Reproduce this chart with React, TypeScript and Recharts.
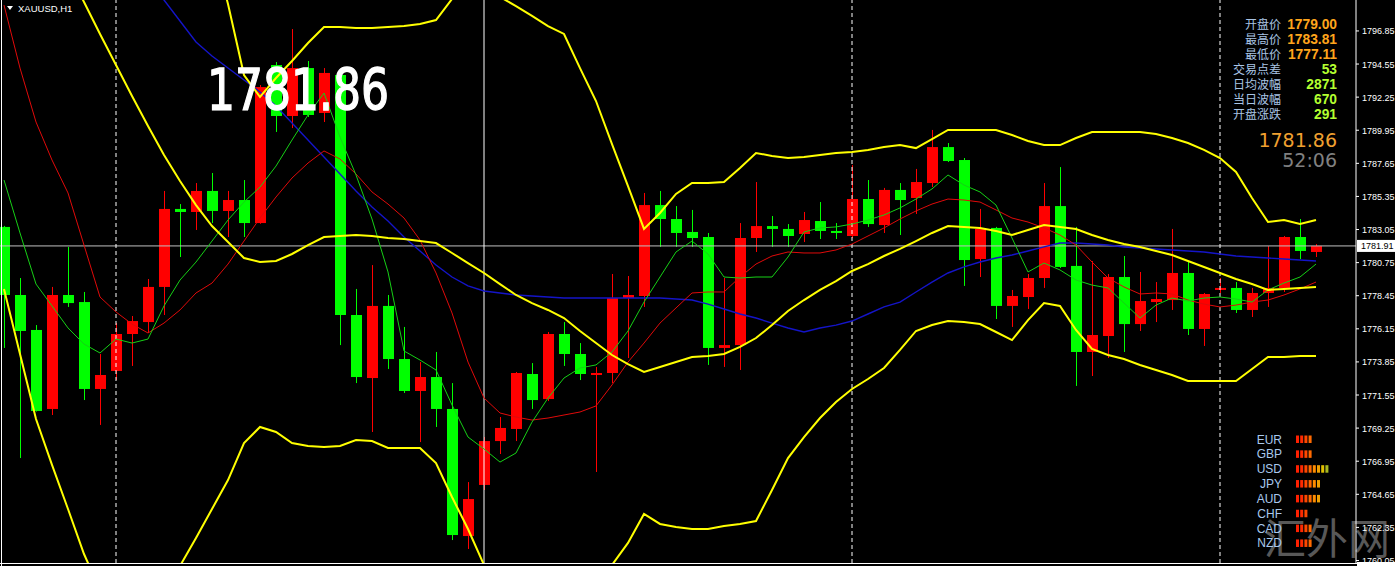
import React from "react";
import { ComposedChart, Bar, Line, XAxis, YAxis, ReferenceLine } from "recharts";

// XAUUSD H1 candles
const OPEN = [
  1783.23, 1778.5, 1776.07, 1770.58, 1778.5, 1778.01, 1771.97, 1773.22, 1775.79, 1776.62,
  1779.06, 1784.48, 1784.27, 1785.73, 1784.34, 1785.1, 1783.5, 1794.48, 1790.94, 1794.27,
  1791.15, 1793.79, 1777.11, 1772.73, 1777.74, 1774.05, 1771.83, 1772.8, 1770.58, 1761.75,
  1765.3, 1768.35, 1769.19, 1773.01, 1771.27, 1775.79, 1774.4, 1772.94, 1773.08, 1778.29,
  1778.43, 1784.75, 1783.78, 1782.88, 1782.53, 1774.82, 1775.02, 1782.46, 1783.29, 1783.09,
  1782.74, 1783.64, 1782.95, 1782.6, 1785.17, 1783.36, 1785.8, 1785.24, 1786.28, 1788.78,
  1787.88, 1781.0, 1783.16, 1777.74, 1778.36, 1779.68, 1784.68, 1780.52, 1774.54, 1775.65,
  1779.75, 1776.48, 1778.01, 1778.15, 1780.03, 1776.14, 1778.85, 1778.99, 1777.46, 1778.64,
  1778.99, 1782.53, 1781.49,
];
const HIGH = [
  1783.3, 1779.68, 1776.41, 1779.06, 1781.84, 1778.71, 1774.4, 1776.55, 1777.04, 1779.61,
  1785.73, 1784.82, 1786.28, 1786.98, 1785.73, 1786.49, 1793.09, 1794.69, 1796.98, 1794.76,
  1794.27, 1794.0, 1778.92, 1780.58, 1778.5, 1776.28, 1773.84, 1774.54, 1772.38, 1765.5,
  1768.63, 1770.02, 1773.15, 1773.77, 1775.93, 1776.62, 1775.16, 1773.5, 1779.96, 1779.82,
  1785.59, 1785.73, 1784.68, 1784.41, 1782.81, 1779.68, 1783.5, 1786.35, 1783.99, 1783.43,
  1784.27, 1784.96, 1783.5, 1787.53, 1786.49, 1785.94, 1786.28, 1787.26, 1789.97, 1789.06,
  1788.02, 1784.48, 1783.23, 1778.85, 1779.96, 1786.28, 1787.39, 1783.23, 1780.86, 1779.96,
  1781.21, 1780.1, 1779.4, 1783.09, 1780.79, 1778.64, 1779.68, 1779.4, 1778.99, 1781.9,
  1782.6, 1783.78, 1782.04,
];
const LOW = [
  1774.82, 1767.17, 1770.4, 1770.16, 1777.67, 1771.2, 1769.47, 1772.59, 1773.57, 1775.86,
  1777.11, 1781.14, 1783.02, 1783.5, 1782.53, 1782.53, 1783.45, 1789.83, 1790.1, 1790.87,
  1790.52, 1775.02, 1772.38, 1768.98, 1773.36, 1771.69, 1768.28, 1769.33, 1761.47, 1760.85,
  1764.95, 1767.45, 1768.35, 1770.58, 1771.13, 1773.57, 1772.59, 1766.2, 1772.38, 1774.12,
  1777.67, 1781.84, 1781.84, 1781.84, 1773.64, 1773.5, 1773.29, 1781.49, 1781.84, 1781.84,
  1782.18, 1782.39, 1782.39, 1782.46, 1783.23, 1782.81, 1782.67, 1784.13, 1786.0, 1787.74,
  1779.13, 1779.75, 1776.83, 1776.28, 1777.53, 1778.99, 1780.38, 1772.18, 1772.87, 1774.12,
  1774.54, 1776.0, 1776.62, 1777.46, 1775.72, 1774.96, 1778.64, 1777.25, 1776.97, 1777.67,
  1778.71, 1781.0, 1781.14,
];
const CLOSE = [
  1778.5, 1776.0, 1770.44, 1778.5, 1777.94, 1771.97, 1772.94, 1775.79, 1776.69, 1779.06,
  1784.48, 1784.27, 1785.73, 1784.34, 1785.1, 1783.5, 1792.95, 1790.94, 1794.27, 1791.01,
  1793.93, 1777.11, 1772.8, 1777.74, 1774.05, 1771.83, 1772.8, 1770.58, 1761.82, 1764.32,
  1768.35, 1769.26, 1773.08, 1771.2, 1775.79, 1774.4, 1773.01, 1773.08, 1778.29, 1778.5,
  1784.75, 1783.78, 1782.81, 1782.46, 1774.82, 1775.02, 1782.46, 1783.29, 1783.09, 1782.6,
  1783.71, 1782.95, 1782.81, 1785.17, 1783.43, 1785.8, 1785.1, 1786.35, 1788.78, 1787.81,
  1780.93, 1783.09, 1777.74, 1778.43, 1779.68, 1784.68, 1780.45, 1774.54, 1775.72, 1779.75,
  1776.48, 1778.08, 1778.22, 1780.03, 1776.14, 1778.57, 1778.99, 1777.46, 1778.64, 1778.99,
  1782.53, 1781.56, 1781.91,
];

// Bollinger bands
const BB_UPPER = [
  1841.74, 1841.67, 1841.32, 1839.93, 1838.54, 1837.22, 1835.28, 1832.7, 1829.44, 1824.92,
  1819.15, 1813.18, 1807.89, 1802.96, 1798.72, 1793.79, 1792.26, 1793.58, 1794.76, 1796.01,
  1797.12, 1797.12, 1797.05, 1797.05, 1797.12, 1797.19, 1797.33, 1797.61, 1799.07, 1799.83,
  1799.83, 1799.21, 1798.58, 1797.89, 1797.19, 1796.64, 1794.27, 1791.98, 1788.99, 1786.07,
  1783.09, 1784.2, 1785.52, 1786.28, 1786.28, 1786.35, 1787.33, 1788.37, 1788.16, 1788.02,
  1788.09, 1788.23, 1788.37, 1788.44, 1788.58, 1788.78, 1788.92, 1788.71, 1789.34, 1789.97,
  1789.97, 1789.97, 1789.97, 1789.62, 1789.2, 1788.92, 1788.92, 1789.41, 1789.83, 1789.83,
  1789.83, 1789.83, 1789.69, 1789.41, 1789.06, 1788.58, 1788.02, 1787.05, 1785.24, 1783.57,
  1783.71, 1783.43, 1783.71,
];
const BB_MIDDLE = [
  1810.47, 1808.03, 1805.6, 1803.31, 1801.08, 1798.86, 1796.64, 1794.48, 1792.33, 1790.24,
  1788.23, 1786.42, 1784.75, 1783.29, 1782.18, 1781.07, 1780.79, 1780.86, 1781.35, 1781.97,
  1782.53, 1782.6, 1782.67, 1782.6, 1782.46, 1782.39, 1782.25, 1782.11, 1781.42, 1780.72,
  1780.03, 1779.26, 1778.5, 1777.94, 1777.46, 1776.9, 1776.0, 1775.16, 1774.33, 1773.7,
  1773.15, 1773.5, 1773.84, 1774.19, 1774.26, 1774.4, 1774.89, 1775.51, 1776.41, 1777.39,
  1778.15, 1778.85, 1779.47, 1780.17, 1780.65, 1781.21, 1781.7, 1782.25, 1782.81, 1783.29,
  1783.23, 1783.16, 1782.95, 1782.67, 1783.02, 1783.36, 1783.23, 1783.09, 1782.67, 1782.32,
  1782.04, 1781.84, 1781.56, 1781.28, 1780.86, 1780.45, 1780.03, 1779.61, 1779.26, 1778.85,
  1778.92, 1778.99, 1779.06,
];
const BB_LOWER = [
  1778.92, 1774.4, 1769.88, 1766.69, 1763.63, 1760.5, 1758.0, 1756.26, 1755.22, 1755.57,
  1757.3, 1759.67, 1761.61, 1763.63, 1765.64, 1768.21, 1769.33, 1768.98, 1768.21, 1768.01,
  1767.94, 1768.01, 1768.42, 1768.35, 1767.87, 1767.87, 1767.87, 1766.82, 1764.46, 1762.24,
  1759.74, 1759.32, 1758.42, 1758.0, 1757.72, 1757.17, 1757.72, 1758.35, 1759.74, 1761.27,
  1763.28, 1762.59, 1762.38, 1762.24, 1762.24, 1762.45, 1762.59, 1762.79, 1764.95, 1767.17,
  1768.63, 1769.95, 1771.06, 1771.97, 1772.66, 1773.43, 1774.68, 1776.0, 1776.41, 1776.69,
  1776.62, 1776.48, 1775.93, 1775.37, 1776.76, 1777.94, 1777.74, 1776.07, 1774.75, 1774.33,
  1774.05, 1773.64, 1773.29, 1772.94, 1772.52, 1772.52, 1772.52, 1772.52, 1773.36, 1774.19,
  1774.19, 1774.26, 1774.26,
];

// moving averages
const MA_BLUE = [
  1812.2, 1810.81, 1809.42, 1808.03, 1806.64, 1805.25, 1803.86, 1802.47, 1801.43, 1800.25,
  1799.0, 1797.54, 1796.08, 1795.11, 1794.27, 1793.44, 1792.61, 1791.63, 1790.45, 1789.27,
  1788.09, 1786.91, 1785.73, 1784.61, 1783.64, 1782.53, 1781.56, 1780.58, 1779.75, 1779.13,
  1778.78, 1778.64, 1778.5, 1778.43, 1778.36, 1778.29, 1778.29, 1778.29, 1778.29, 1778.29,
  1778.29, 1778.29, 1778.22, 1778.15, 1777.87, 1777.53, 1777.18, 1776.9, 1776.55, 1776.21,
  1775.93, 1776.21, 1776.41, 1776.69, 1777.18, 1777.67, 1778.01, 1778.71, 1779.4, 1780.03,
  1780.45, 1780.79, 1781.07, 1781.28, 1781.56, 1781.84, 1782.11, 1782.11, 1782.04, 1781.97,
  1781.84, 1781.77, 1781.7, 1781.63, 1781.56, 1781.49, 1781.35, 1781.21, 1781.14, 1781.07,
  1781.0, 1780.93, 1780.86,
];
const MA_RED = [
  1798.65, 1794.27, 1790.52, 1787.88, 1785.59, 1781.97, 1778.36, 1777.32, 1776.48, 1775.86,
  1776.55, 1777.46, 1778.64, 1779.33, 1780.65, 1782.25, 1783.85, 1785.31, 1786.63, 1787.67,
  1788.51, 1787.95, 1786.91, 1785.66, 1784.82, 1783.85, 1782.32, 1780.03, 1777.25, 1773.84,
  1771.34, 1770.3, 1770.02, 1769.81, 1769.95, 1770.16, 1770.37, 1770.79, 1772.25, 1773.84,
  1775.16, 1776.55, 1777.6, 1778.64, 1778.71, 1778.71, 1779.75, 1780.65, 1781.21, 1781.49,
  1781.42, 1781.42, 1781.63, 1782.04, 1782.6, 1783.16, 1783.78, 1784.34, 1784.82, 1785.17,
  1785.1, 1784.96, 1784.41, 1783.85, 1783.57, 1783.16, 1782.67, 1781.97, 1780.79, 1779.68,
  1779.06, 1778.57, 1778.64, 1778.57, 1778.15, 1777.87, 1777.67, 1777.8, 1778.01, 1778.15,
  1778.5, 1778.92, 1779.4,
];
const MA_GREEN = [
  1786.49, 1782.81, 1779.26, 1777.74, 1776.21, 1775.09, 1774.47, 1775.44, 1775.16, 1775.44,
  1777.74, 1779.54, 1780.79, 1782.25, 1783.71, 1784.96, 1786.0, 1787.46, 1789.27, 1791.01,
  1792.54, 1789.48, 1786.84, 1783.78, 1780.1, 1774.61, 1773.98, 1773.29, 1770.86, 1768.63,
  1767.8, 1766.89, 1767.52, 1769.67, 1771.34, 1772.73, 1773.43, 1773.64, 1774.54, 1776.0,
  1778.01, 1779.75, 1781.49, 1782.25, 1781.35, 1779.75, 1779.68, 1779.75, 1779.75, 1781.14,
  1782.88, 1783.16, 1783.23, 1783.43, 1783.71, 1784.06, 1784.55, 1785.17, 1785.87, 1786.84,
  1786.14, 1785.66, 1784.75, 1782.46, 1780.1, 1780.72, 1780.24, 1779.54, 1779.19, 1778.99,
  1777.94, 1776.9, 1777.8, 1778.29, 1778.08, 1778.29, 1778.36, 1778.22, 1778.01, 1778.85,
  1779.33, 1779.75, 1780.65,
];

const PRICE_TICKS = [
  1796.85, 1794.55, 1792.25, 1789.95, 1787.65, 1785.35, 1783.05, 1780.75, 1778.45,
  1776.15, 1773.85, 1771.55, 1769.25, 1766.95, 1764.65, 1762.35, 1760.05,
];
const LAST_PRICE = 1781.91;
const SEPARATORS = [7, 53, 76];
const MARKER_BAR = 30;

const INFO_LABELS = ["开盘价", "最高价", "最低价", "交易点差", "日均波幅", "当日波幅", "开盘涨跌"];
const INFO_VALUES = ["1779.00", "1783.81", "1777.11", "53", "2871", "670", "291"];
const CURRENCIES = ["EUR", "GBP", "USD", "JPY", "AUD", "CHF", "CAD", "NZD"];
const STRENGTH = [4, 4, 8, 6, 6, 3, 4, 4];
const STRENGTH_COLORS = ["#ff2000", "#ff2a00", "#ff4800", "#ff6a00", "#ff8c00", "#f0a000", "#e0c000", "#a8b820"];

const W = 1395;
const H = 567;

const Candle = (props: any) => {
  const { x, y, width, height, payload } = props;
  if (!payload) return null;
  const { open, close, high, low } = payload;
  const top = Math.min(y, y + height);
  const h = Math.abs(height);
  const k = h / (high - low || 1);
  const up = close >= open;
  const color = up ? "#ff0000" : "#00ff00";
  const cx = Math.round(x + width / 2) + 0.5;
  const bTop = top + (high - Math.max(open, close)) * k;
  const bBot = top + (high - Math.min(open, close)) * k;
  return (
    <g>
      <line x1={cx} x2={cx} y1={top} y2={top + h} stroke={color} strokeWidth={1} />
      <rect x={cx - 5.5} y={bTop} width={11} height={Math.max(bBot - bTop, 1.5)} fill={color} />
    </g>
  );
};

const PriceTick = (props: any) => {
  const { x, y, payload } = props;
  return (
    <g>
      <line x1={x} x2={x + 3} y1={y} y2={y} stroke="#fff" />
      <text x={x + 6} y={y + 3.5} fill="#fff" fontSize={9} fontFamily="Liberation Sans">
        {Number(payload.value).toFixed(2)}
      </text>
    </g>
  );
};

const PriceBadge = (props: any) => {
  const vb = props.viewBox || {};
  const left = (vb.x || 0) + (vb.width || 0) + 1;
  const y = vb.y || 0;
  return (
    <g>
      <rect x={left} y={y - 6} width={W - left} height={12} fill="#fff" />
      <text x={left + 4} y={y + 3.5} fill="#000" fontSize={9} fontFamily="Liberation Sans">
        {LAST_PRICE.toFixed(2)}
      </text>
    </g>
  );
};

export default function App() {
  const data = OPEN.map((o, i) => ({
    i,
    open: o,
    high: HIGH[i],
    low: LOW[i],
    close: CLOSE[i],
    range: [LOW[i], HIGH[i]],
    bbUp: BB_UPPER[i],
    bbMid: BB_MIDDLE[i],
    bbLow: BB_LOWER[i],
    maBlue: MA_BLUE[i],
    maRed: MA_RED[i],
    maGreen: MA_GREEN[i],
  }));

  return (
    <div style={{ position: "absolute", left: 0, top: 0, width: W, height: H, background: "#000", overflow: "hidden" }}>
      {/* watermark */}
      <svg width={W} height={H} style={{ position: "absolute", left: 0, top: 0 }}>
        <text x={1390} y={554} textAnchor="end" fontSize={42} fill="#585858" fontFamily="Noto Sans CJK SC">
          汇外网
        </text>
      </svg>

      <div style={{ position: "absolute", left: 0, top: 0 }}>
        <ComposedChart width={W} height={H} data={data} margin={{ top: 0, right: 0, bottom: 4, left: 0 }}>
          <XAxis dataKey="i" type="number" domain={[-0.25, 84.5]} hide allowDataOverflow />
          <YAxis
            orientation="right"
            width={39}
            domain={[1759.876, 1799.0]}
            allowDataOverflow
            ticks={PRICE_TICKS}
            interval={0}
            tickSize={0}
            tickMargin={0}
            tickLine={false}
            axisLine={{ stroke: "#fff" }}
            tick={<PriceTick />}
          />
          <ReferenceLine y={LAST_PRICE} stroke="#c0c0c0" label={<PriceBadge />} />
          {SEPARATORS.map((s) => (
            <ReferenceLine key={s} x={s} stroke="#fff" strokeDasharray="4 3" />
          ))}
          <ReferenceLine x={MARKER_BAR} stroke="#fff" />
          <Bar dataKey="range" barSize={11} shape={<Candle />} isAnimationActive={false} />
          <Line type="linear" dataKey="maBlue" stroke="#1414c8" strokeWidth={1.4} dot={false} isAnimationActive={false} />
          <Line type="linear" dataKey="maRed" stroke="#e00a0a" strokeWidth={1} dot={false} isAnimationActive={false} />
          <Line type="linear" dataKey="maGreen" stroke="#16d016" strokeWidth={1} dot={false} isAnimationActive={false} />
          <Line type="linear" dataKey="bbUp" stroke="#ffff00" strokeWidth={2} dot={false} isAnimationActive={false} />
          <Line type="linear" dataKey="bbMid" stroke="#ffff00" strokeWidth={2} dot={false} isAnimationActive={false} />
          <Line type="linear" dataKey="bbLow" stroke="#ffff00" strokeWidth={2} dot={false} isAnimationActive={false} />
        </ComposedChart>
      </div>

      {/* overlay texts and panels */}
      <svg width={W} height={H} style={{ position: "absolute", left: 0, top: 0 }}>
        <line x1={1.5} x2={1.5} y1={0} y2={H} stroke="#fff" />
        <line x1={0} x2={1357} y1={563.5} y2={563.5} stroke="#fff" />
        <line x1={0} x2={W} y1={566.5} y2={566.5} stroke="#fff" />
        <rect x={1357} y={562} width={38} height={6} fill="#fff" />

        <path d="M7 6 L13 6 L10 10 Z" fill="#fff" />
        <text x={18} y={12} fill="#fff" fontSize={9.5} fontFamily="Liberation Sans">XAUUSD,H1</text>

        <text
          x={207}
          y={110}
          fill="#fff"
          stroke="#fff"
          strokeWidth={1.3}
          fontSize={57}
          fontFamily="DejaVu Sans Condensed, DejaVu Sans"
          textLength={182}
          lengthAdjust="spacingAndGlyphs"
        >
          1781.86
        </text>

        {INFO_LABELS.map((l, k) => (
          <text key={l} x={1281} y={29 + k * 15} textAnchor="end" fill="#a9c4e4" fontSize={12} fontFamily="Noto Sans CJK SC">
            {l}
          </text>
        ))}
        {INFO_VALUES.map((v, k) => (
          <text
            key={k}
            x={1337}
            y={29 + k * 15}
            textAnchor="end"
            fill={k < 3 ? "#ffa51c" : "#b4ff30"}
            fontSize={13.8}
            fontWeight="bold"
            fontFamily="Liberation Sans"
          >
            {v}
          </text>
        ))}
        <text x={1337} y={147} textAnchor="end" fill="#f0a030" fontSize={19} fontFamily="DejaVu Sans">1781.86</text>
        <text x={1337} y={167} textAnchor="end" fill="#808080" fontSize={19} fontFamily="DejaVu Sans">52:06</text>

        {CURRENCIES.map((c, k) => (
          <g key={c}>
            <text x={1282} y={443.5 + k * 14.85} textAnchor="end" fill="#a9c8ec" fontSize={12} fontFamily="Liberation Sans">
              {c}
            </text>
            {Array.from({ length: STRENGTH[k] }).map((_, j) => (
              <rect key={j} x={1296 + j * 4.2} y={435.5 + k * 14.85} width={3} height={7.5} fill={STRENGTH_COLORS[j]} />
            ))}
          </g>
        ))}
      </svg>
    </div>
  );
}
